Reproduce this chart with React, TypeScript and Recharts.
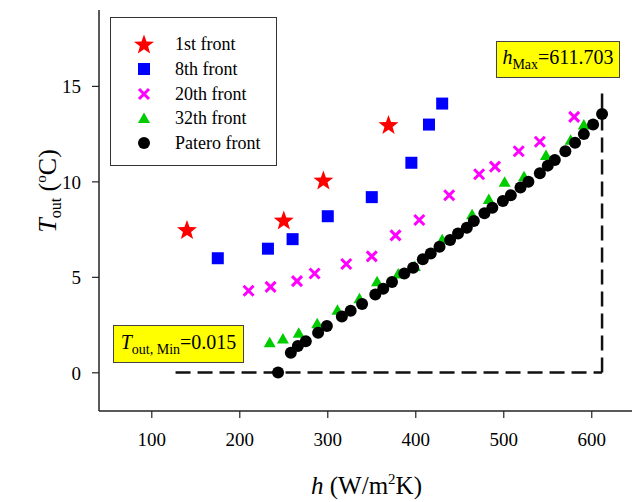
import React from 'react'
import { ScatterChart, Scatter, XAxis, YAxis, ReferenceLine, Legend } from 'recharts'

const SERIF = '"Liberation Serif", "Times New Roman", Times, serif'

// [h (W/m2K), Tout (°C)] for each front
const front1st = [[140, 7.5], [250, 8.0], [295, 10.1], [369, 13.0]]
const front8th = [[175, 6.0], [232, 6.5], [260, 7.0], [300, 8.2], [350, 9.2], [395, 11.0], [415, 13.0], [430, 14.1]]
const front20th = [
    [210, 4.3], [235, 4.5], [265, 4.8], [285, 5.2], [321, 5.7], [350, 6.1], [377, 7.2],
    [404, 8.0], [438, 9.3], [472, 10.4], [490, 10.8], [517, 11.6], [541, 12.1], [580, 13.4],
]
const front32th = [
    [234, 1.6], [249, 1.8], [267, 2.1], [288, 2.6], [311, 3.3], [336, 3.9], [356, 4.8], [380, 5.2],
    [399, 5.6], [430, 7.0], [464, 8.3], [483, 9.1], [501, 10.0], [523, 10.3], [548, 11.4], [576, 12.2], [591, 13.0],
]
const paretoFront = [
    [243.5, 0.015], [258, 1.05], [266, 1.4], [275, 1.65], [289, 2.1], [299, 2.45], [316, 2.95], [326, 3.25],
    [339, 3.6], [354, 4.1], [363, 4.4], [373, 4.75], [387, 5.2], [397, 5.5], [408, 5.95], [417, 6.25],
    [427, 6.6], [439, 6.95], [448, 7.3], [458, 7.6], [466, 7.95], [478, 8.35], [487, 8.65], [499, 9.0],
    [508, 9.3], [519, 9.7], [528, 10.0], [541, 10.45], [550, 10.85], [558, 11.15], [570, 11.6], [581, 12.05],
    [591, 12.5], [601.5, 13.0], [611.703, 13.55],
]

const xTicks = [100, 200, 300, 400, 500, 600]
const yTicks = [0, 5, 10, 15]
const xDomain = [40, 648]
const yDomain = [-2, 19]

// optimum markers
const hMax = 611.703
const toutMin = 0.015
const guideStartH = 127
const guideTopT = 15

type Kind = 'star' | 'square' | 'cross' | 'triangle' | 'circle'

const series: { name: string; rows: number[][]; color: string; kind: Kind }[] = [
    { name: '1st front', rows: front1st, color: '#ff0000', kind: 'star' },
    { name: '8th front', rows: front8th, color: '#0000ff', kind: 'square' },
    { name: '20th front', rows: front20th, color: '#ff00ff', kind: 'cross' },
    { name: '32th front', rows: front32th, color: '#00cc00', kind: 'triangle' },
    { name: 'Patero front', rows: paretoFront, color: '#000000', kind: 'circle' },
]

const toPoints = (rows: number[][]) => rows.map(([h, t]) => ({ h, t }))

function marker(kind: Kind, cx: number, cy: number, color: string) {
    switch (kind) {
        case 'star': {
            const pts: string[] = []
            for (let i = 0; i < 10; i++) {
                const r = i % 2 === 0 ? 10.5 : 4.3
                const a = -Math.PI / 2 + (i * Math.PI) / 5
                pts.push(`${cx + r * Math.cos(a)},${cy + 1 + r * Math.sin(a)}`)
            }
            return <polygon points={pts.join(' ')} fill={color} />
        }
        case 'square':
            return <rect x={cx - 6} y={cy - 6} width={12} height={12} fill={color} />
        case 'cross':
            return (
                <path
                    d={`M${cx - 5},${cy - 5}L${cx + 5},${cy + 5}M${cx - 5},${cy + 5}L${cx + 5},${cy - 5}`}
                    stroke={color}
                    strokeWidth={3}
                />
            )
        case 'triangle':
            return <polygon points={`${cx},${cy - 5.5} ${cx + 6},${cy + 5} ${cx - 6},${cy + 5}`} fill={color} />
        default:
            return <circle cx={cx} cy={cy} r={6} fill={color} />
    }
}

const LegendBox = () => (
    <div
        style={{
            width: 167, height: 149, boxSizing: 'border-box', border: '1.5px solid #333',
            background: '#fff', paddingTop: 14, fontFamily: SERIF, fontSize: 18, color: '#000',
        }}
    >
        {series.map(s => (
            <div key={s.name} style={{ display: 'flex', alignItems: 'center', height: 24.7 }}>
                <svg width={64} height={24} style={{ flex: 'none' }}>
                    {marker(s.kind, 33, 12, s.color)}
                </svg>
                <span style={{ lineHeight: 1 }}>{s.name}</span>
            </div>
        ))}
    </div>
)

const XTitle = ({ viewBox }: any) => (
    <text x={viewBox.x + viewBox.width / 2} y={viewBox.y + 83} textAnchor="middle"
        fontFamily={SERIF} fontSize={25} fill="#000">
        <tspan fontStyle="italic">h</tspan>
        <tspan> (W/m</tspan>
        <tspan fontSize={15} dy={-10}>2</tspan>
        <tspan dy={10}>K)</tspan>
    </text>
)

const YTitle = ({ viewBox }: any) => {
    const x = 56
    const y = viewBox.y + 181
    return (
        <text x={x} y={y} transform={`rotate(-90 ${x} ${y})`} textAnchor="middle"
            fontFamily={SERIF} fontSize={26} fill="#000">
            <tspan fontStyle="italic">T</tspan>
            <tspan fontSize={16} dy={5}>out</tspan>
            <tspan dy={-5}> (</tspan>
            <tspan fontSize={15} dy={-10}>o</tspan>
            <tspan dy={10}>C)</tspan>
        </text>
    )
}

const noteBox: React.CSSProperties = {
    position: 'absolute', boxSizing: 'border-box', background: '#ffff00', border: '1px solid #444',
    display: 'flex', alignItems: 'center', justifyContent: 'center', fontSize: 20, lineHeight: 1, color: '#000',
}
const subStyle: React.CSSProperties = { fontSize: 14, verticalAlign: '-5px' }

const tickStyle = { fill: '#000', fontSize: 19, fontFamily: SERIF }
const guide = { stroke: '#111', strokeWidth: 2.5, strokeDasharray: '15 7' }

export default function App() {
    return (
        <div style={{
            position: 'absolute', left: 0, top: 0, width: 632, height: 502,
            overflow: 'hidden', background: '#fff', fontFamily: SERIF,
        }}>
            <ScatterChart width={632} height={502} margin={{ top: 10, right: -2, bottom: 0, left: 0 }}>
                <XAxis
                    type="number" dataKey="h" domain={xDomain} ticks={xTicks} allowDataOverflow
                    height={91} tickSize={7} tickMargin={15} tick={tickStyle}
                    axisLine={{ stroke: '#222', strokeWidth: 1.5 }} tickLine={{ stroke: '#222', strokeWidth: 1.2 }}
                    label={(props: any) => <XTitle viewBox={props.viewBox} />}
                />
                <XAxis
                    xAxisId="top" orientation="top" type="number" domain={xDomain} allowDataOverflow
                    height={0} tick={false} tickLine={false} axisLine={{ stroke: '#222', strokeWidth: 1.8 }}
                />
                <YAxis
                    type="number" dataKey="t" domain={yDomain} ticks={yTicks} allowDataOverflow
                    width={99} tickSize={7} tickMargin={11} tick={tickStyle}
                    axisLine={{ stroke: '#222', strokeWidth: 1.5 }} tickLine={{ stroke: '#222', strokeWidth: 1.2 }}
                    label={(props: any) => <YTitle viewBox={props.viewBox} />}
                />
                <ReferenceLine segment={[{ x: guideStartH, y: toutMin }, { x: hMax, y: toutMin }]} {...guide} />
                <ReferenceLine segment={[{ x: hMax, y: toutMin }, { x: hMax, y: guideTopT }]} {...guide} />
                {series.map(s => (
                    <Scatter
                        key={s.name}
                        name={s.name}
                        data={toPoints(s.rows)}
                        fill={s.color}
                        isAnimationActive={false}
                        shape={(p: any) => marker(s.kind, p.cx, p.cy, s.color)}
                    />
                ))}
                <Legend
                    layout="vertical" align="center" verticalAlign="middle"
                    wrapperStyle={{ left: 110, top: 17, width: 167, height: 149 }}
                    content={() => <LegendBox />}
                />
            </ScatterChart>
            <div style={{ ...noteBox, left: 496, top: 41, width: 124, height: 37 }}>
                <span><i>h</i><span style={subStyle}>Max</span>={hMax}</span>
            </div>
            <div style={{ ...noteBox, left: 113, top: 325, width: 131, height: 38 }}>
                <span><i>T</i><span style={subStyle}>out, Min</span>={toutMin}</span>
            </div>
        </div>
    )
}
